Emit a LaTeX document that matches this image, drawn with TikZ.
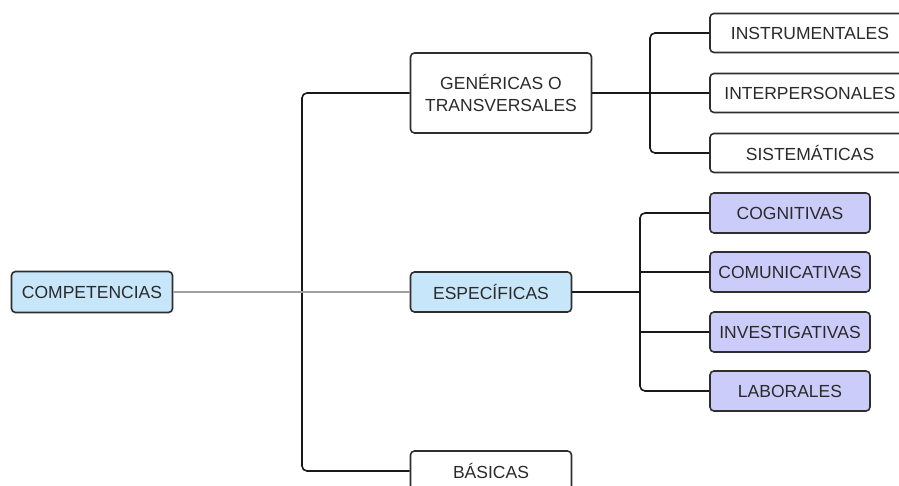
\documentclass[tikz,border=0pt]{standalone}
\usepackage{fontspec}
\setmainfont{Liberation Sans}
\definecolor{boxline}{HTML}{2E2E2E}
\definecolor{txt}{HTML}{2A2A2A}
\definecolor{lblue}{HTML}{C8E6FA}
\definecolor{lpurp}{HTML}{CCCCFA}
\definecolor{grayline}{HTML}{A0A0A0}
\tikzset{
  box/.style={draw=boxline, line width=1.6pt, rounded corners=4pt, fill=white,
    inner sep=0pt, align=center, text=txt,
    font=\fontsize{17.5}{22}\selectfont},
  bluebox/.style={box, fill=lblue},
  purpbox/.style={box, fill=lpurp},
  conn/.style={draw=black!90, line width=1.6pt, rounded corners=5pt},
}
\begin{document}
\begin{tikzpicture}[x=1pt,y=-1pt]
\useasboundingbox (0,0) rectangle (899,486);
\clip (0,0) rectangle (899,486);
% nodes
\node[bluebox, minimum width=161pt, minimum height=41pt] (comp) at (92,292) {COMPETENCIAS};
\node[box, minimum width=181pt, minimum height=80pt] (gen) at (501,93) {GENÉRICAS O\\TRANSVERSALES};
\node[bluebox, minimum width=161pt, minimum height=40pt] (esp) at (491,292) {ESPECÍFICAS};
\node[box, minimum width=161pt, minimum height=40pt] (bas) at (491,471) {BÁSICAS};
\node[box, minimum width=200pt, minimum height=39pt] (ins) at (810,33) {INSTRUMENTALES};
\node[box, minimum width=200pt, minimum height=39pt] (int) at (810,93) {INTERPERSONALES};
\node[box, minimum width=200pt, minimum height=39pt] (sis) at (810,153) {SISTEMÁTICAS};
\node[purpbox, minimum width=160pt, minimum height=40pt] (cog) at (790,213) {COGNITIVAS};
\node[purpbox, minimum width=160pt, minimum height=40pt] (com) at (790,272) {COMUNICATIVAS};
\node[purpbox, minimum width=160pt, minimum height=40pt] (inv) at (790,332) {INVESTIGATIVAS};
\node[purpbox, minimum width=160pt, minimum height=40pt] (lab) at (790,391) {LABORALES};
% junctions
\coordinate (j0) at (302,292);
\coordinate (j1) at (650,93);
\coordinate (j2) at (640,292);
% connectors
\draw[conn] (gen.west) -| (j0) |- (bas.west);
\draw[grayline, line width=1.6pt] (comp.east) -- (esp.west);
\draw[conn] (ins.west) -| (j1) |- (sis.west);
\draw[conn] (gen.east) -- (int.west);
\draw[conn] (cog.west) -| (j2) |- (lab.west);
\draw[conn] (esp.east) -- (j2);
\draw[conn] (com.west) -- (com.west -| j2);
\draw[conn] (inv.west) -- (inv.west -| j2);
\end{tikzpicture}
\end{document}
